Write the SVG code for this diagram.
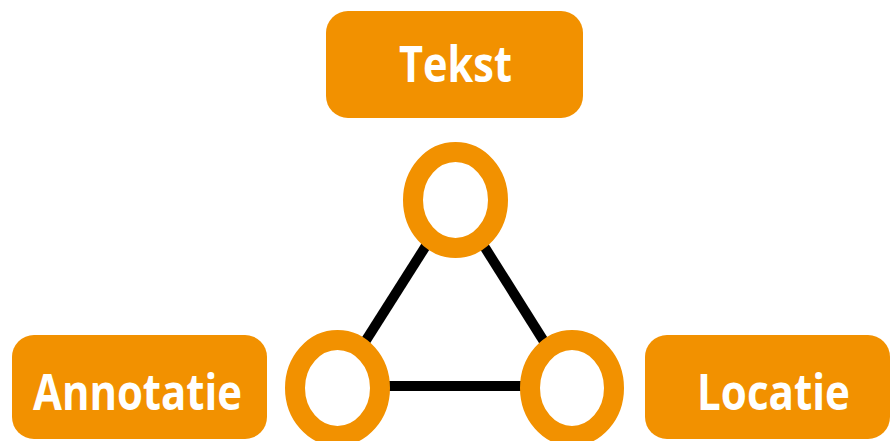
<svg xmlns="http://www.w3.org/2000/svg" width="892" height="441" viewBox="0 0 892 441">
<style>
.box{fill:#F29100}
.lbl{fill:#fff;font-family:"Open Sans","Noto Sans",sans-serif;font-weight:700;font-size:51px}
.ring{fill:#fff;stroke:#F29100;stroke-width:20}
.edge{stroke:#000;stroke-width:10;fill:none}
</style>
<rect width="892" height="441" fill="#fff"/>
<g id="connectors">
<line class="edge" x1="455" y1="200" x2="337" y2="386"/>
<line class="edge" x1="455" y1="200" x2="572" y2="386"/>
<line class="edge" x1="337" y1="386" x2="572" y2="386"/>
</g>
<g id="tekst">
<rect class="box" x="326" y="11" width="257" height="107" rx="22"/>
<text class="lbl" x="399" y="82" textLength="113" lengthAdjust="spacingAndGlyphs">Tekst</text>
</g>
<g id="annotatie">
<rect class="box" x="12" y="335" width="255" height="104" rx="22"/>
<text class="lbl" x="33" y="410" textLength="209" lengthAdjust="spacingAndGlyphs">Annotatie</text>
</g>
<g id="locatie">
<rect class="box" x="645" y="335" width="245" height="104" rx="22"/>
<text class="lbl" x="697" y="410" textLength="153" lengthAdjust="spacingAndGlyphs">Locatie</text>
</g>
<g id="node-top">
<ellipse class="ring" cx="455.5" cy="200" rx="42.5" ry="48"/>
</g>
<g id="node-left">
<ellipse class="ring" cx="337.5" cy="388" rx="42.5" ry="48"/>
</g>
<g id="node-right">
<ellipse class="ring" cx="572" cy="388" rx="42" ry="48"/>
</g>
</svg>
